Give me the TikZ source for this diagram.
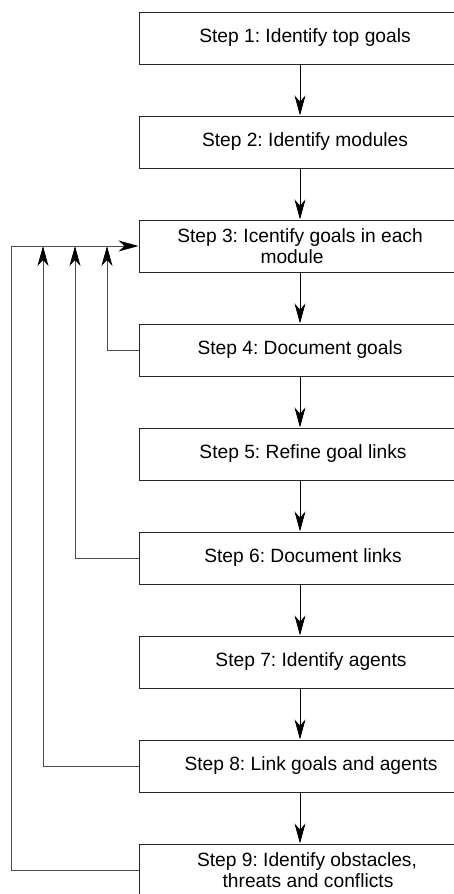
\documentclass[tikz,border=0pt]{standalone}
\usepackage{fontspec}
\setmainfont{Liberation Sans}
\usetikzlibrary{arrows.meta}
\frenchspacing
\begin{document}
\begin{tikzpicture}[x=1pt,y=1pt,
  stepbox/.style={draw=black!85, line width=1pt, minimum width=322pt, minimum height=52pt,
    inner sep=0pt, align=center, font=\fontsize{19.2}{21}\selectfont},
  arr/.style={-{Stealth[length=20pt,width=11pt,inset=6pt]}, line width=1pt, draw=black},
  fb/.style={-{Stealth[length=20pt,width=11pt,inset=6pt,color=black]}, line width=1pt, draw=black!70}]
\useasboundingbox (0,0) rectangle (454,-894);
\clip (0,0) rectangle (454,-894);
\node[stepbox] (s1) at (300,-38) {\hspace*{10pt}Step 1: Identify top goals};
\node[stepbox] (s2) at (300,-142) {\hspace*{10pt}Step 2: Identify modules};
\node[stepbox] (s3) at (300,-246) {Step 3: Icentify goals in each\\\hspace*{-16pt}module};
\node[stepbox] (s4) at (300,-350) {Step 4: Document goals};
\node[stepbox] (s5) at (300,-454) {\hspace*{6pt}Step 5: Refine goal links};
\node[stepbox] (s6) at (300,-558) {\hspace*{6pt}Step 6: Document links};
\node[stepbox] (s7) at (300,-662) {\hspace*{22pt}Step 7: Identify agents};
\node[stepbox] (s8) at (300,-766) {\hspace*{22pt}Step 8: Link goals and agents};
\node[stepbox] (s9) at (300,-870) {\hspace*{14pt}Step 9: Identify obstacles,\\\hspace*{16pt}threats and conflicts};
\coordinate (f4) at (107,-246);
\coordinate (f6) at (75,-246);
\coordinate (f8) at (43,-246);
\coordinate (f9) at (11,-246);
\draw[arr] (s1) -- (s2);
\draw[arr] (s2) -- (s3);
\draw[arr] (s3) -- (s4);
\draw[arr] (s4) -- (s5);
\draw[arr] (s5) -- (s6);
\draw[arr] (s6) -- (s7);
\draw[arr] (s7) -- (s8);
\draw[arr] (s8) -- (s9);
\draw[fb] (s4.west) -| (f4);
\draw[fb] (s6.west) -| (f6);
\draw[fb] (s8.west) -| (f8);
\draw[fb] (s9.west) -| (f9) -- (s3.west);
\end{tikzpicture}
\end{document}
